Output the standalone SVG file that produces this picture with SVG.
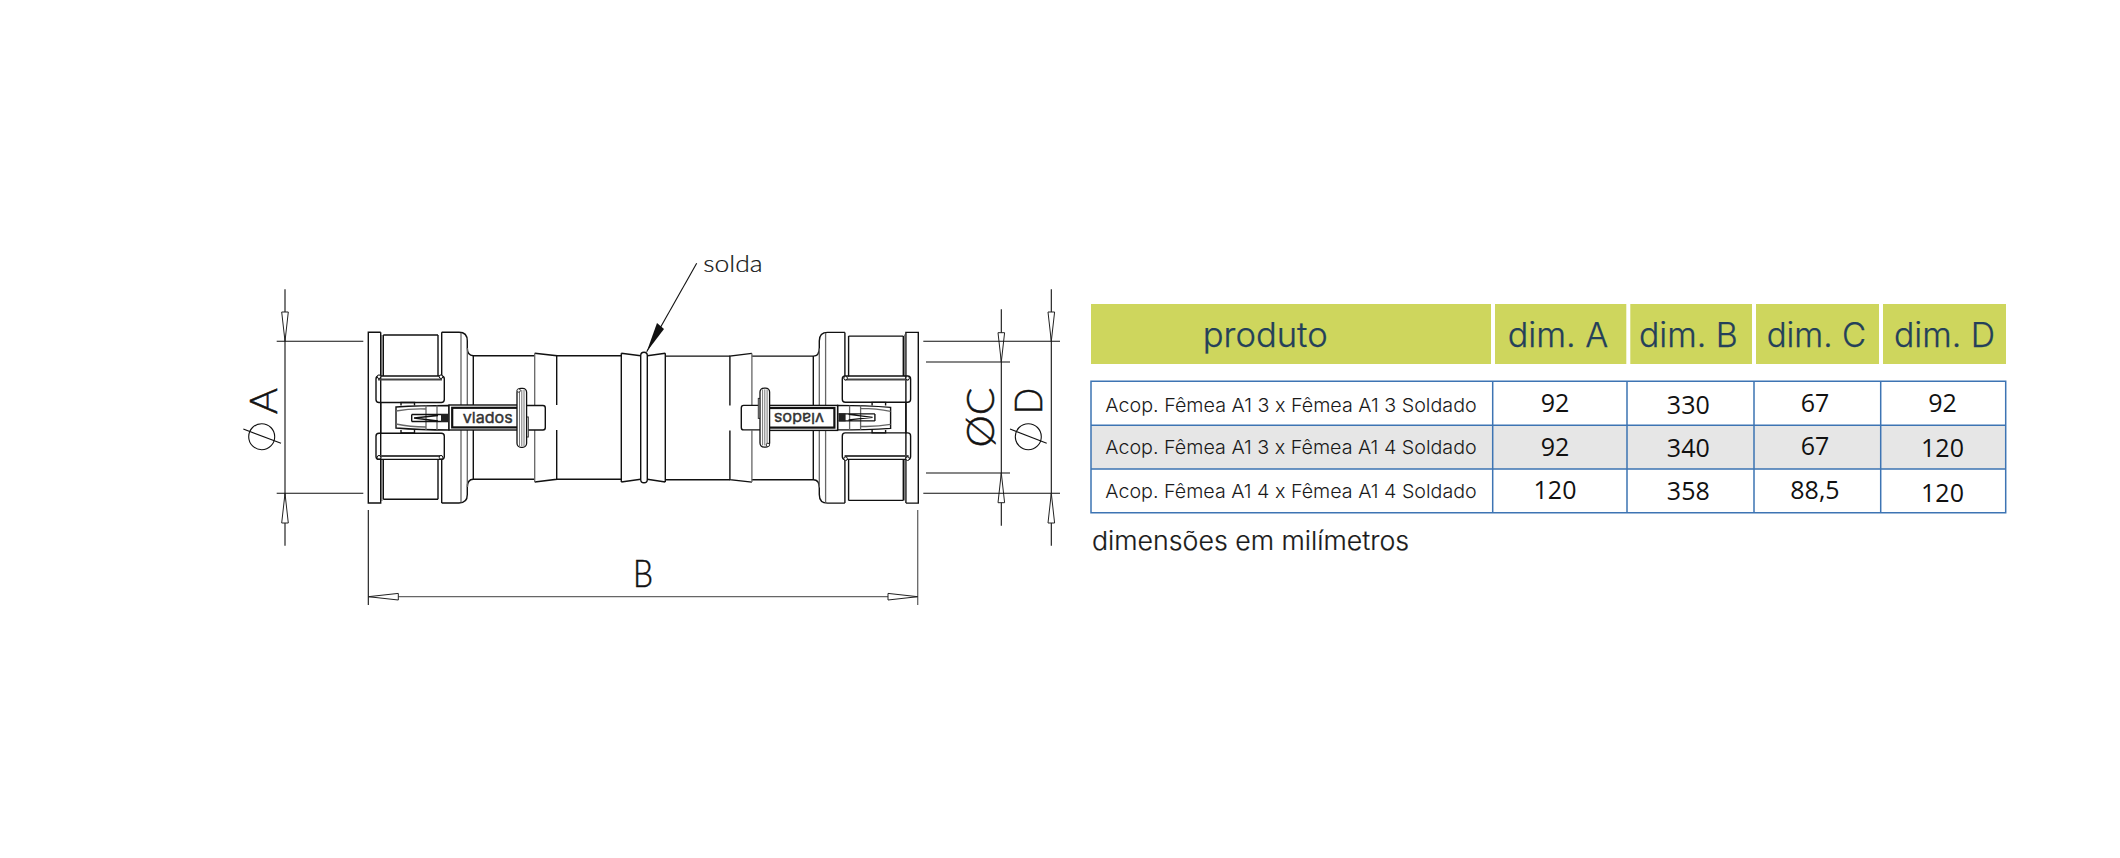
<svg xmlns="http://www.w3.org/2000/svg" xmlns:xlink="http://www.w3.org/1999/xlink" width="2120" height="858" viewBox="0 0 2120 858">
<style>
.l{fill:none;stroke:#111;stroke-width:1.4}
.g{fill:none;stroke:#666;stroke-width:1.3}
.k{fill:none;stroke:#444;stroke-width:2}
.d{fill:none;stroke:#111;stroke-width:1.1}
.ah{fill:#fff;stroke:#222;stroke-width:1}
.dl{font-family:Lato,"Noto Sans",sans-serif;font-weight:300;font-size:37px;fill:#111;stroke:#111;stroke-width:.5}
.h{font-family:Inter,"Noto Sans",sans-serif;font-weight:300;font-size:34px;fill:#24405a;stroke:#24405a;stroke-width:.25}
.r{font-family:Inter,"Noto Sans",sans-serif;font-weight:300;font-size:19px;fill:#1a1a1a}
.n{font-family:"Open Sans","Noto Sans",sans-serif;font-size:25px;fill:#111;text-anchor:middle}
.v{font-family:Inter,"DejaVu Sans",sans-serif;font-weight:400;font-size:15px;fill:#333;stroke:#333;stroke-width:.4}
.t{fill:none;stroke:#3d74b3;stroke-width:1.5}
</style>
<defs>
<g id="half">
<path class="l" d="M380.7 332.3H368.3V503H380.7V332.3M383.3 335V376M383.3 459.3V499.3M383.3 335H438M383.3 499.3H438"/>
<path class="g" d="M381.8 335V376M381.8 459V501"/>
<path class="l" d="M380.7 402V433"/>
<path class="l" d="M438 376V335M438 459V499.3M441.7 332.3V376M441.7 459V503"/>
<path class="l" d="M441.7 332.3H459Q467.3 332.3 467.3 341V348Q467.3 355.7 473.3 355.7H534.7M441.7 503H459Q467.3 503 467.3 494.5V487.5Q467.3 479.3 473.3 479.3H534.7"/>
<path class="g" d="M461 333V405M461 430V502.5M467.3 348V405M467.3 430V487"/>
<path class="l" d="M473.3 355.7V405M473.3 430V479.3"/>
<path class="l" d="M534.7 353.3L556.7 355.7V405M556.7 430V479.3L534.7 482"/>
<path class="g" d="M534.7 353.3V405M534.7 430V482"/>
<path class="l" d="M556.7 355.7H621.3M556.7 479.3H621.3"/>
<rect class="l" x="376" y="376" width="68.3" height="26.5" rx="3"/>
<rect class="l" x="376" y="433.2" width="68.3" height="26.2" rx="3"/>
<path class="k" d="M378 379.5H442M378 456H442"/>
<circle cx="379" cy="376.7" r="1.8" fill="#fff" stroke="#111"/><circle cx="441" cy="376.7" r="1.8" fill="#fff" stroke="#111"/>
<circle cx="379" cy="457.3" r="1.8" fill="#fff" stroke="#111"/><circle cx="441" cy="457.3" r="1.8" fill="#fff" stroke="#111"/>
<path class="l" d="M401 405.5V402.5H414.5V405.5M401 430V433H414.5V430"/>
<path d="M396 407Q420 405.5 449 405.5V430Q420 430 396 428Z" fill="#fff" stroke="#111" stroke-width="1.4"/>
<path class="g" d="M396 411Q410 408.5 426 409M396 424Q410 427 426 427M426 405.5V430M437 405.5V430"/>
<path class="l" d="M411.7 414.5H448M411.7 421.5H448M411.7 414.5V421.5M414 418L438 415.5M414 418L438 421"/>
<rect x="441" y="414" width="7" height="8" fill="#222"/>
<rect x="449" y="405" width="76.7" height="25" fill="#fff" stroke="#111" stroke-width="1.4"/>
<rect x="452.2" y="407.8" width="71" height="19.6" fill="#fff" stroke="#111" stroke-width="2.2"/>
<path class="l" d="M525.7 405.5H543Q545.3 405.5 545.3 408V427.5Q545.3 430 543 430H525.7"/>
<rect x="523" y="417" width="5.3" height="20" fill="#fff" stroke="#333" stroke-width="1"/>
<rect x="517" y="388.3" width="9.6" height="59" rx="4" fill="#fff" stroke="#111" stroke-width="1.3"/>
<path d="M519.5 390V446M521.8 390V446M524 390V446" stroke="#777" fill="none"/>
<circle cx="518.7" cy="390.5" r="1.7" fill="#fff" stroke="#333"/>
</g>
</defs>
<rect width="2120" height="858" fill="#fff"/>
<g id="fitting">
<use xlink:href="#half" href="#half"/>
<use xlink:href="#half" href="#half" transform="rotate(180 643.3 417.7)"/>
<path class="l" d="M621.3 353.3L640.7 355.7M621.3 482L640.7 479.3M621.3 353.3V482M647.3 355.7L665.3 353.3M647.3 479.3L665.3 482M665.3 353.3V482"/>
<rect class="l" x="640.7" y="352.3" width="6.6" height="130.4" rx="3.3"/>
<text class="v" x="462.7" y="422.5" textLength="50" lengthAdjust="spacingAndGlyphs">vlados</text>
<text class="v" transform="rotate(180 799 417.7)" x="774" y="422.5" textLength="50" lengthAdjust="spacingAndGlyphs">vlados</text>
</g>
<g id="connectors">
<path class="d" d="M285 289.3V545.7M276.7 341.3H363.3M276.7 493.3H363.3"/>
<path class="ah" d="M285 341.3L281.7 312H288.3ZM285 493.3L281.7 523H288.3Z"/>
<path class="g" d="M368.3 596.7H918"/>
<path class="d" d="M368.3 510V605"/><path class="g" d="M917.7 510V605"/>
<path class="ah" d="M368.3 596.7L398.3 593.4V600ZM917.7 596.7L888 593.4V600Z"/>
<path class="d" d="M696.7 263.3L646.7 351.7"/>
<path d="M646.7 351.7L657 323L664 329Z" fill="#111"/>
<path class="d" d="M1001.3 309.3V525.7M926 362H1010M926 473H1010"/>
<path class="ah" d="M1001.3 362L998 332.7H1004.6ZM1001.3 473L998 502.7H1004.6Z"/>
<path class="d" d="M1051.3 289.3V545.7M923.3 341.3H1060M923.3 493.3H1060"/>
<path class="ah" d="M1051.3 341.3L1048 312H1054.6ZM1051.3 493.3L1048 523H1054.6Z"/>
<circle class="d" cx="261.7" cy="436.7" r="13"/><path class="d" d="M243.3 429L281 443.3"/>
<circle class="d" cx="1028.3" cy="436.7" r="13"/><path class="d" d="M1010 429L1046.7 443.3"/>
</g>
<g id="dim-labels">
<text class="dl" transform="rotate(-90 276.7 414)" x="276.7" y="414" textLength="26" lengthAdjust="spacingAndGlyphs">A</text>
<text class="dl" x="633" y="587.3" textLength="20" lengthAdjust="spacingAndGlyphs">B</text>
<text class="dl" transform="rotate(-90 994 447.5)" x="994" y="447.5" textLength="60" lengthAdjust="spacingAndGlyphs">ØC</text>
<text class="dl" transform="rotate(-90 1042 414)" x="1042" y="414" textLength="26" lengthAdjust="spacingAndGlyphs">D</text>
<text x="703.3" y="272.3" font-family="Lato,sans-serif" font-weight="300" font-size="24" fill="#111" stroke="#111" stroke-width=".2" textLength="59.4" lengthAdjust="spacingAndGlyphs">solda</text>
</g>
<g id="table-header" fill="#ced65d">
<rect x="1091" y="304" width="400" height="60"/>
<rect x="1495" y="304" width="131.3" height="60"/>
<rect x="1630.3" y="304" width="121.7" height="60"/>
<rect x="1756" y="304" width="123" height="60"/>
<rect x="1883" y="304" width="123" height="60"/>
<text class="h" x="1202.7" y="346.7" textLength="125" lengthAdjust="spacingAndGlyphs">produto</text>
<text class="h" x="1507.7" y="347" textLength="100.6" lengthAdjust="spacingAndGlyphs">dim. A</text>
<text class="h" x="1639" y="347" textLength="98.7" lengthAdjust="spacingAndGlyphs">dim. B</text>
<text class="h" x="1766.7" y="347" textLength="99.3" lengthAdjust="spacingAndGlyphs">dim. C</text>
<text class="h" x="1894" y="347" textLength="101" lengthAdjust="spacingAndGlyphs">dim. D</text>
</g>
<g id="table-body">
<rect x="1091" y="425.3" width="914.7" height="43.7" fill="#e6e6e6"/>
<path class="t" d="M1091 381.3H2005.7V512.7H1091ZM1091 425.3H2005.7M1091 469H2005.7M1492.7 381.3V512.7M1627 381.3V512.7M1754 381.3V512.7M1880.7 381.3V512.7"/>
<text class="r" x="1105.3" y="412.3" textLength="371.4" lengthAdjust="spacingAndGlyphs">Acop. Fêmea A1 3 x Fêmea A1 3 Soldado</text>
<text class="r" x="1105.3" y="454" textLength="371.4" lengthAdjust="spacingAndGlyphs">Acop. Fêmea A1 3 x Fêmea A1 4 Soldado</text>
<text class="r" x="1105.3" y="497.7" textLength="371.4" lengthAdjust="spacingAndGlyphs">Acop. Fêmea A1 4 x Fêmea A1 4 Soldado</text>
<text class="n" x="1555" y="412.3">92</text><text class="n" x="1555" y="455.7">92</text><text class="n" x="1555" y="499.3">120</text>
<text class="n" x="1688.3" y="413.7">330</text><text class="n" x="1688.3" y="456.7">340</text><text class="n" x="1688.3" y="500.3">358</text>
<text class="n" x="1815" y="412">67</text><text class="n" x="1815" y="455.3">67</text><text class="n" x="1815" y="499.3">88,5</text>
<text class="n" x="1942.5" y="412">92</text><text class="n" x="1942.5" y="456.7">120</text><text class="n" x="1942.5" y="501.7">120</text>
<text x="1092" y="550" font-family="Inter,sans-serif" font-weight="300" font-size="26" fill="#1a1a1a" stroke="#1a1a1a" stroke-width=".2" textLength="317" lengthAdjust="spacingAndGlyphs">dimensões em milímetros</text>
</g>
</svg>
